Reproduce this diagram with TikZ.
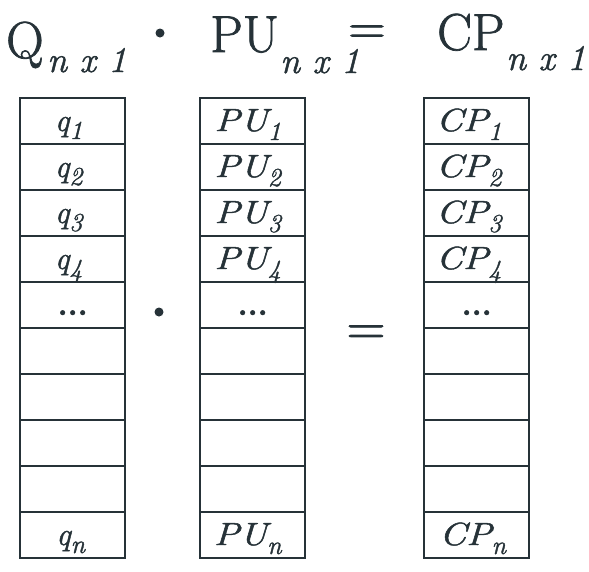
\documentclass[tikz,border=0pt]{standalone}
\usepackage{fontspec}
\setmainfont{Latin Modern Roman}[FakeBold=1.4]
\usetikzlibrary{calc}
\definecolor{ink}{RGB}{38,50,56}
\newcommand{\hdr}{\fontsize{52}{52}\selectfont}
\newcommand{\hsub}{\fontsize{36}{36}\selectfont\itshape}
\newcommand{\cellfont}{\fontsize{32}{32}\selectfont\itshape}
\newcommand{\ctq}[2]{{\cellfont #1}\raisebox{-8pt}{\fontsize{26}{26}\selectfont\itshape #2}}
\newcommand{\ctw}[2]{\scalebox{1.2}[1]{\cellfont #1}\raisebox{-9pt}{\fontsize{26}{26}\selectfont\itshape #2}}
\begin{document}
\begin{tikzpicture}[x=1pt,y=-1pt,
  cellbox/.style={draw=ink, line width=2.4pt, minimum width=105pt, minimum height=46pt, inner sep=0pt, anchor=north west},
  celltext/.style={text=ink, anchor=base, inner sep=0pt},
  hd/.style={text=ink, anchor=base west, inner sep=0pt},
  opdot/.style={circle, fill=ink, inner sep=0pt, minimum size=9pt}]
\fill[white] (0,0) rectangle (589,571);
\useasboundingbox (0,0) rectangle (589,571);

% header
\node[hd] (hQ) at (6,58) {\hdr Q};
\node[hd] (hQs) at (47,72) {\hsub n x 1};
\node[opdot] (dot1) at (160,33) {};
\node[hd] (hP) at (210,52) {\hdr PU};
\node[hd] (hPs) at (280,73) {\hsub n x 1};
\node[hd] (eq1) at (348,44) {\hdr =};
\node[hd] (hC) at (437,50) {\hdr CP};
\node[hd] (hCs) at (506,70) {\hsub n x 1};

% columns
\foreach \col/\x in {q/19, p/199, c/423} {
  \foreach \i in {1,...,10} {
    \node[cellbox] (\col\i) at (\x, {97+46*(\i-1)}) {};
  }
}

% cell texts
\foreach \i in {1,2,3,4} {
  \node[celltext] (tq\i) at ([xshift=-4pt,yshift=-34pt]q\i.north) {\ctq{q}{\i}};
  \node[celltext] (tp\i) at ([xshift=-5pt,yshift=-34pt]p\i.north) {\ctw{PU}{\i}};
  \node[celltext] (tc\i) at ([xshift=-8pt,yshift=-34pt]c\i.north) {\ctw{CP}{\i}};
}
\node[celltext] (tq5) at ([yshift=-34pt]q5.north) {\fontsize{32}{32}\selectfont\bfseries ...};
\node[celltext] (tp5) at ([yshift=-34pt]p5.north) {\fontsize{32}{32}\selectfont\bfseries ...};
\node[celltext] (tc5) at ([yshift=-34pt]c5.north) {\fontsize{32}{32}\selectfont\bfseries ...};
\node[celltext] (tq10) at ([xshift=-2pt,yshift=-34pt]q10.north) {\ctq{q}{n}};
\node[celltext] (tp10) at ([xshift=-5pt,yshift=-34pt]p10.north) {\ctw{PU}{n}};
\node[celltext] (tc10) at ([xshift=-4pt,yshift=-34pt]c10.north) {\ctw{CP}{n}};

% middle operators
\node[opdot] (dot2) at (159,312) {};
\node[text=ink, inner sep=0pt] (eq2) at (366,335) {\fontsize{54}{54}\selectfont =};
\end{tikzpicture}
\end{document}
